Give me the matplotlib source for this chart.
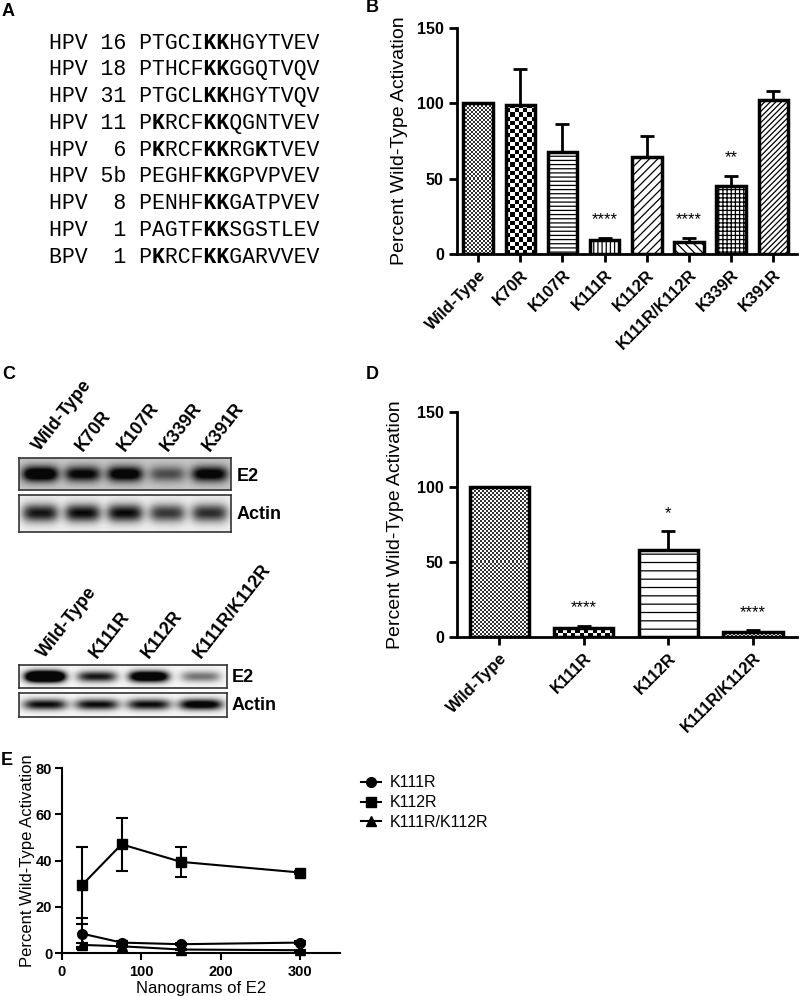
import numpy as np
import matplotlib
matplotlib.use('Agg')
import matplotlib.pyplot as plt
from matplotlib.colors import ListedColormap
from matplotlib.transforms import offset_copy

plt.rcParams['font.family'] = ['Liberation Sans', 'DejaVu Sans']
plt.rcParams['hatch.linewidth'] = 0.9
plt.rcParams['hatch.color'] = 'black'

# ---- data ----
strains = ['HPV 16', 'HPV 18', 'HPV 31', 'HPV 11', 'HPV  6', 'HPV 5b', 'HPV  8', 'HPV  1', 'BPV  1']
seqs = ['PTGCIKKHGYTVEV', 'PTHCFKKGGQTVQV', 'PTGCLKKHGYTVQV', 'PKRCFKKQGNTVEV',
        'PKRCFKKRGKTVEV', 'PEGHFKKGPVPVEV', 'PENHFKKGATPVEV', 'PAGTFKKSGSTLEV',
        'PKRCFKKGARVVEV']

b_names = ['Wild-Type', 'K70R', 'K107R', 'K111R', 'K112R', 'K111R/K112R', 'K339R', 'K391R']
b_vals = [100, 99, 67.5, 9, 64.5, 8, 45, 102]
b_err = [0, 24, 18.5, 1.5, 14, 2.5, 7, 6.5]
b_pat = ['fine', 'check', '----', '||||', '////', '\\\\\\\\', '++++', '//////']
b_stars = {3: '****', 5: '****', 6: '**'}

d_names = ['Wild-Type', 'K111R', 'K112R', 'K111R/K112R']
d_vals = [100, 6, 58, 3.5]
d_err = [0, 1.5, 12.5, 1]
d_pat = ['fine', 'check', '--', 'fine']
d_stars = {1: '****', 2: '*', 3: '****'}

blot1_lanes = ['Wild-Type', 'K70R', 'K107R', 'K339R', 'K391R']
blot1_e2 = [1.4, 1.1, 1.25, 0.65, 1.2]
blot1_actin = [0.95, 1.0, 1.0, 0.8, 0.85]
blot2_lanes = ['Wild-Type', 'K111R', 'K112R', 'K111R/K112R']
blot2_e2 = [2.2, 0.95, 1.6, 0.55]
blot2_actin = [1.0, 1.0, 1.0, 1.2]

ng = [25, 75, 150, 300]
e_k111 = [8.4, 4.5, 3.8, 4.5]
e_k111_err = [6.8, 0.8, 0.5, 0.5]
e_k112 = [29.3, 47, 39.4, 34.8]
e_k112_err = [16.6, 11.4, 6.5, 0.5]
e_dbl = [3.5, 2.9, 1.5, 1.2]
e_dbl_err = [1.0, 0.5, 0.3, 0.3]

W, H = 800, 996


def box(l, t, r, b):
    return [l / W, 1 - b / H, (r - l) / W, (b - t) / H]


fig = plt.figure(figsize=(W / 100, H / 100), dpi=100)
bg = fig.add_axes([0, 0, 1, 1])
bg.set_xlim(0, W)
bg.set_ylim(H, 0)
bg.axis('off')

for lab, (x, y) in zip('ABCDE', [(2, 11), (366, 7), (2, 374), (366, 374), (1, 760)]):
    bg.text(x, y, lab, fontsize=13, fontweight='bold', va='center')

# ---- A: alignment ----
for i, (s, q) in enumerate(zip(strains, seqs)):
    line = s + ' ' + q
    plain = ''.join(' ' if c == 'K' else c for c in line)
    bold = ''.join(c if c == 'K' else ' ' for c in line)
    y = 48.5 + i * 26.75
    bg.text(49, y, plain, family='Liberation Mono', fontsize=15.5, va='baseline')
    bg.text(49, y, bold, family='Liberation Mono', fontsize=15.5, va='baseline', fontweight='bold')


def style(ax):
    for s in ['top', 'right']:
        ax.spines[s].set_visible(False)
    for s in ['left', 'bottom']:
        ax.spines[s].set_linewidth(2)
    ax.tick_params(width=2, length=6)
    for t in ax.get_yticklabels():
        t.set_fontweight('bold')
        t.set_fontsize(11.5)


def checker(ax, bar, cell, dark):
    bb = bar.get_window_extent()
    nx = max(1, int(round(bb.width / cell)))
    ny = max(1, int(round(bb.height / cell)))
    arr = np.add.outer(np.arange(ny), np.arange(nx)) % 2
    x0, y0 = bar.get_x(), bar.get_y()
    im = ax.imshow(arr, cmap=ListedColormap([dark, 'white']), origin='lower',
                   extent=(x0, x0 + bar.get_width(), y0, y0 + bar.get_height()),
                   interpolation='nearest', aspect='auto', zorder=2)
    im.set_clip_path(bar)


def barpanel(rect, names, vals, errs, pats, stars, xmax, star_off, ylx):
    ax = fig.add_axes(box(*rect))
    x = np.arange(len(names))
    ax.set_xlim(-0.5, xmax)
    ax.set_ylim(0, 150)
    bars = ax.bar(x, vals, width=0.7, color='white', edgecolor='none', zorder=1)
    for b, p in zip(bars, pats):
        if p == 'fine':
            checker(ax, b, 2, '#333333')
        elif p == 'check':
            checker(ax, b, 4.2, 'black')
        else:
            b.set_hatch(p)
            b.set_edgecolor('black')
            b.set_linewidth(0)
    ax.bar(x, vals, width=0.7, fill=False, edgecolor='black', linewidth=2.5, zorder=3)
    ax.errorbar(x, vals, yerr=[np.zeros(len(vals)), errs], fmt='none', ecolor='black',
                elinewidth=2, capsize=5, capthick=2, zorder=4)
    for i, s in stars.items():
        ax.text(i, vals[i] + errs[i] + star_off, s, ha='center', va='center', fontsize=12)
    ax.set_xlim(-0.5, xmax)
    ax.set_ylim(0, 150)
    ax.set_yticks([0, 50, 100, 150])
    ax.set_xticks(x)
    ax.set_xticklabels(names, rotation=45, ha='right', rotation_mode='anchor',
                       fontsize=12, fontweight='bold')
    ax.set_ylabel('Percent Wild-Type Activation', fontsize=14, va='center')
    ax.yaxis.set_label_coords(ylx, 0.5)
    style(ax)
    return ax


# ---- B ----
barpanel((457, 28, 797, 254), b_names, b_vals, b_err, b_pat, b_stars, 7.56, 12, -0.17)

# ---- D ----
barpanel((457, 412, 797, 637), d_names, d_vals, d_err, d_pat, d_stars, 3.52, 12, -0.18)


# ---- C: blots ----
def blot(rect, dens, level, width, sigma, lanes=None):
    ax = fig.add_axes(box(*rect))
    n = len(dens)
    X, Y = np.meshgrid(np.linspace(0, n, 400), np.linspace(0, 1, 60))
    img = np.zeros_like(X)
    for i, d in enumerate(dens):
        img += d * np.exp(-np.abs((X - i - 0.5) / width) ** 4) * np.exp(-((Y - 0.5) / sigma) ** 2)
    img = level - np.clip(img, 0, 1) * (level - 0.03)
    ax.imshow(img, cmap='gray', vmin=0, vmax=1, extent=(0, n, 0, 1), aspect='auto',
              interpolation='bilinear', origin='lower')
    ax.set_xticks([])
    ax.set_yticks([])
    for sp in ax.spines.values():
        sp.set_linewidth(1.2)
        sp.set_color('#333333')
    if lanes:
        tr = offset_copy(ax.transData, fig=fig, y=6, units='dots')
        for i, lab in enumerate(lanes):
            ax.text(i + 0.5, 1, lab, transform=tr, rotation=52, rotation_mode='anchor',
                    ha='left', va='baseline', fontsize=13, fontweight='bold')
    return ax


blot((19, 458, 231, 490), blot1_e2, 0.78, 0.43, 0.25, blot1_lanes)
blot((19, 495, 231, 532), blot1_actin, 0.94, 0.43, 0.24)
blot((19, 665, 227, 688), blot2_e2, 0.97, 0.38, 0.24, blot2_lanes)
blot((19, 693, 227, 717), blot2_actin, 0.97, 0.42, 0.22)
for x, y, t in [(237, 476, 'E2'), (237, 514, 'Actin'), (232, 677, 'E2'), (232, 705, 'Actin')]:
    bg.text(x, y, t, fontsize=13, fontweight='bold', va='center')

# ---- E ----
ax = fig.add_axes(box(62, 768, 340, 953))
conts = []
for vals, errs, mk, name in [(e_k111, e_k111_err, 'o', 'K111R'),
                             (e_k112, e_k112_err, 's', 'K112R'),
                             (e_dbl, e_dbl_err, '^', 'K111R/K112R')]:
    c = ax.errorbar(ng, vals, yerr=errs, color='black', marker=mk, ms=7, lw=1.5,
                    capsize=4, capthick=1.5, elinewidth=1.5, label=name, clip_on=False)
    conts.append(c)
ax.set_xlim(0, 350)
ax.set_ylim(0, 80)
ax.set_xticks([0, 100, 200, 300])
ax.set_yticks([0, 20, 40, 60, 80])
ax.set_ylabel('Percent Wild-Type Activation', fontsize=12, va='center')
ax.yaxis.set_label_coords(-0.125, 0.5)
ax.set_xlabel('Nanograms of E2', fontsize=12)
ax.xaxis.set_label_coords(0.5, -0.15)
for s in ['top', 'right']:
    ax.spines[s].set_visible(False)
for s in ['left', 'bottom']:
    ax.spines[s].set_linewidth(1.5)
ax.tick_params(width=1.5, length=5)
ax.tick_params(axis='y', pad=2)
for t in ax.get_xticklabels() + ax.get_yticklabels():
    t.set_fontweight('bold')
    t.set_fontsize(10.5)
ax.legend([c[0] for c in conts], ['K111R', 'K112R', 'K111R/K112R'], loc='upper left',
          bbox_to_anchor=(347 / W, 1 - 761 / H), bbox_transform=fig.transFigure,
          frameon=False, fontsize=11.5, handlelength=1.2, handletextpad=0.6,
          labelspacing=0.3)

fig.savefig('out.png', dpi=100)
